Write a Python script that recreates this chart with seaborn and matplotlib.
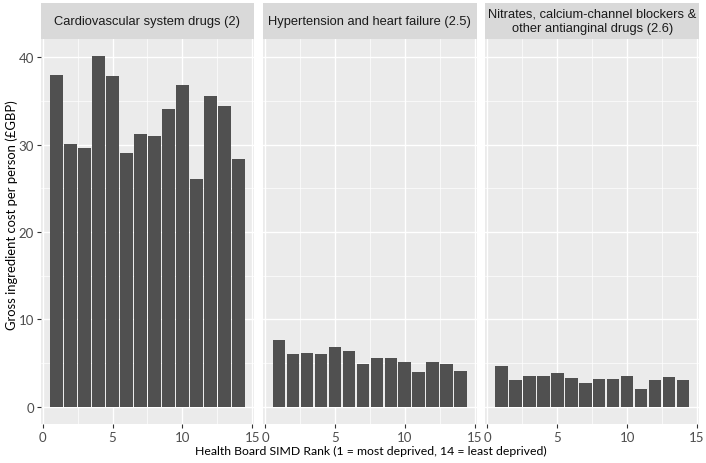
import numpy as np
import pandas as pd
import matplotlib
matplotlib.use("Agg")
import matplotlib.pyplot as plt
from matplotlib.patches import Rectangle
from matplotlib.ticker import MultipleLocator
import seaborn as sns

# SIMD rank of each health board
simd_rank = list(range(1, 15))

# gross ingredient cost per person (GBP)
cardio = [38.0, 30.1, 29.6, 40.1, 37.9, 29.0, 31.2, 31.0, 34.1, 36.8, 26.1, 35.6, 34.4, 28.4]
hypertension = [7.6, 6.0, 6.15, 6.05, 6.85, 6.4, 4.9, 5.6, 5.6, 5.05, 4.0, 5.1, 4.9, 4.1]
nitrates = [4.7, 3.0, 3.5, 3.55, 3.8, 3.3, 2.75, 3.2, 3.2, 3.45, 2.0, 3.0, 3.4, 3.05]

panel_titles = [
    "Cardiovascular system drugs (2)",
    "Hypertension and heart failure (2.5)",
    "Nitrates, calcium-channel blockers &\nother antianginal drugs (2.6)",
]

df = pd.concat([
    pd.DataFrame({"rank": simd_rank, "cost": vals, "group": t})
    for vals, t in zip([cardio, hypertension, nitrates], panel_titles)
])

sns.set_theme(style="white")
plt.rcParams["font.family"] = ["Lato", "DejaVu Sans"]

fig, axes = plt.subplots(1, 3, figsize=(7.06, 4.64), dpi=100, sharey=True)
W, H = 706, 464
fig.subplots_adjust(left=40.7 / W, right=699 / W, bottom=1 - 425 / H,
                    top=1 - 40 / H, wspace=0.041)

panel_h = 385
strip_h = 36

for ax, title in zip(axes, panel_titles):
    sub = df[df["group"] == title]
    sns.barplot(data=sub, x="rank", y="cost", native_scale=True, width=0.9,
                color="#505050", saturation=1, edgecolor="none", ax=ax, zorder=3)
    ax.set_facecolor("#EBEBEB")
    ax.set_xlim(-0.145, 15.145)
    ax.set_ylim(-2.0, 42.1)
    ax.xaxis.set_major_locator(MultipleLocator(5))
    ax.xaxis.set_minor_locator(MultipleLocator(2.5))
    ax.yaxis.set_major_locator(MultipleLocator(10))
    ax.yaxis.set_minor_locator(MultipleLocator(5))
    ax.grid(which="major", color="white", linewidth=1.0, zorder=0)
    ax.grid(which="minor", color="white", linewidth=0.5, zorder=0)
    ax.set_axisbelow(True)
    for s in ax.spines.values():
        s.set_visible(False)
    ax.tick_params(which="major", length=3, width=0.8, color="#333333",
                   labelcolor="#4D4D4D", labelsize=9.5, pad=2,
                   bottom=True, left=True)
    ax.tick_params(which="minor", length=0)
    ax.set_xlabel("")
    ax.set_ylabel("")
    # facet strip
    ax.add_patch(Rectangle((0, 1), 1, strip_h / panel_h, transform=ax.transAxes,
                           facecolor="#D9D9D9", edgecolor="none", clip_on=False))
    ax.text(0.5, 1 + (strip_h / 2 + 0.5) / panel_h, title, transform=ax.transAxes,
            ha="center", va="center", fontsize=9.3, color="#1A1A1A",
            family=["Liberation Sans", "DejaVu Sans"], linespacing=1.25)

for ax in axes[1:]:
    ax.tick_params(axis="y", left=False, labelleft=False)

fig.text(12 / W, 1 - 215 / H, "Gross ingredient cost per person (£GBP)",
         rotation=90, ha="center", va="center", fontsize=9.4, color="black")
fig.text(371 / W, 1 - 451 / H,
         "Health Board SIMD Rank (1 = most deprived, 14 = least deprived)",
         ha="center", va="center", fontsize=8.8, color="black")

fig.savefig("out.png", dpi=100)
